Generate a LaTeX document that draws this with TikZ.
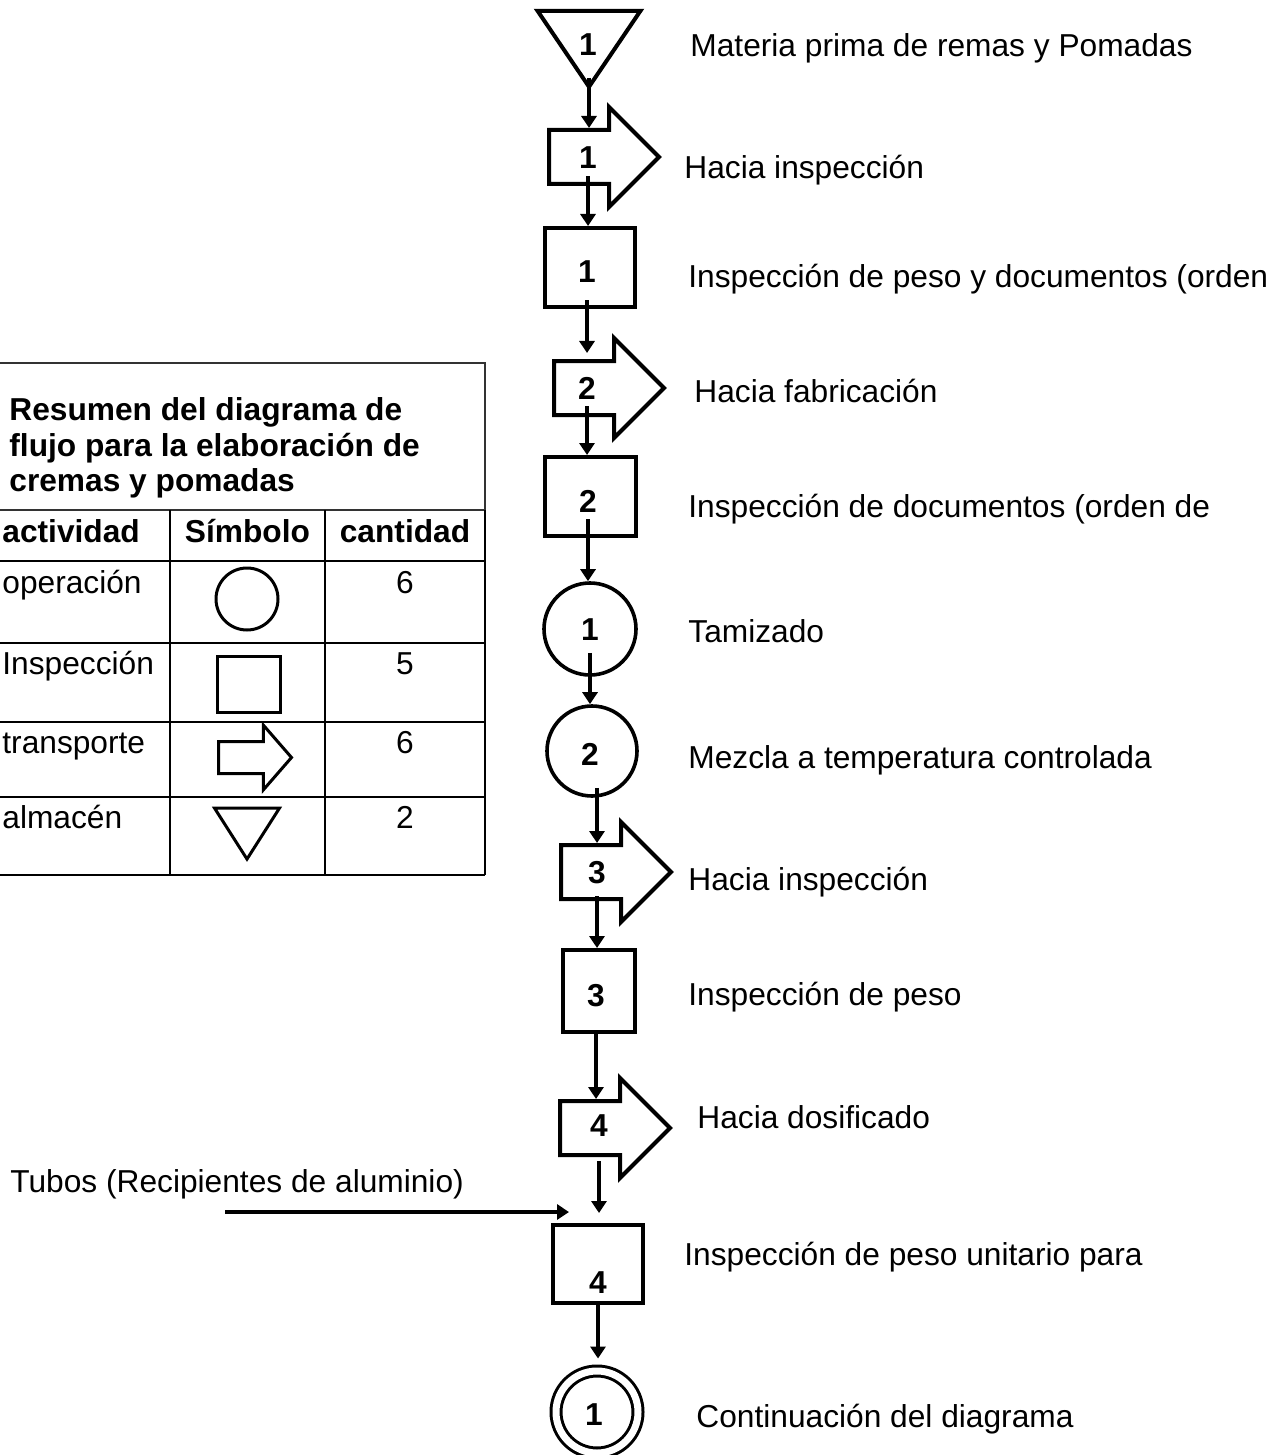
\documentclass[tikz,border=0pt]{standalone}
\usepackage{fontspec}
\setmainfont{Liberation Sans}
\usetikzlibrary{arrows.meta,positioning,shapes.geometric,shapes.arrows}
\tikzset{
  texto/.style={font=\fontsize{15.85}{17.75}\selectfont,inner sep=0pt,anchor=base west},
  numero/.style={font=\fontsize{15.85}{17.75}\selectfont\bfseries,inner sep=0pt,anchor=base},
  inspeccion/.style={draw=black,line width=2pt,rectangle},
  operacion/.style={draw=black,line width=1.8pt,circle},
  transporte/.style={draw=black,line width=2pt,single arrow,single arrow head extend=11.5pt,single arrow tip angle=90,minimum height=55pt,inner xsep=0pt,inner ysep=12.5pt,anchor=tail},
  almacen/.style={draw=black,line width=2pt,isosceles triangle,isosceles triangle stretches,shape border rotate=-90,inner sep=0pt,anchor=apex},
  simbolo/.style={draw=black,line width=1.5pt},
  tabla/.style={draw=black,line width=0.7pt},
  flecha/.style={-{Triangle[length=6pt,width=7.5pt]},line width=1.7pt,draw=black}
}
\begin{document}
\begin{tikzpicture}[x=0.5pt,y=-0.5pt]
  \useasboundingbox (0,0) rectangle (1286,1455);

  % resumen
  \draw[line width=1pt,draw=black!80] (0,363) -- (485,363) -- (485,510) -- (0,510);
  \node (titulo) [texto,anchor=north west,align=left,font=\fontsize{15.85}{17.9}\selectfont\bfseries] at (9,397) {Resumen del diagrama de\\flujo para la elaboración de\\cremas y pomadas};
  \draw[tabla] (0,561) -- (485,561) (0,643) -- (485,643) (0,722) -- (485,722) (0,797) -- (485,797) (0,875) -- (485,875);
  \draw[tabla] (170,510) -- (170,875) (325,510) -- (325,875) (485,510) -- (485,875);
  \node (hact) [texto,font=\fontsize{15.85}{17.75}\selectfont\bfseries] at (2,542) {actividad};
  \node (hsim) [numero] at (247.5,542) {Símbolo};
  \node (hcant) [numero] at (405,542) {cantidad};
  \node (rop) [texto] at (2,593) {operación};
  \node (rinsp) [texto] at (2,674) {Inspección};
  \node (rtr) [texto] at (2,753) {transporte};
  \node (ralm) [texto] at (2,828) {almacén};
  \node (cop) [numero,font=\fontsize{15.85}{17.75}\selectfont] at (405,593) {6};
  \node (cinsp) [numero,font=\fontsize{15.85}{17.75}\selectfont] at (405,674) {5};
  \node (ctr) [numero,font=\fontsize{15.85}{17.75}\selectfont] at (405,753) {6};
  \node (calm) [numero,font=\fontsize{15.85}{17.75}\selectfont] at (405,828) {2};
  \node (sop) [simbolo,circle,minimum size=31pt] at (247,599) {};
  \node (sinsp) [simbolo,minimum width=31.5pt,minimum height=28pt] at (248.5,684) {};
  \node (str) [transporte,line width=1.5pt,minimum height=36.5pt,inner ysep=7.25pt,single arrow head extend=8.25pt,single arrow tip angle=98] at (217,757.5) {};
  \node (salm) [almacen,line width=1.5pt,minimum width=32.5pt,minimum height=25.5pt] at (247,863) {};

  % diagrama
  \node (alm1) [almacen,minimum width=51.5pt,minimum height=38pt] at (589,92) {};
  \node (alm1n) [numero] at (588,56) {1};
  \node (tr1) [transporte] at (547,157) {};
  \node (tr1n) [numero] at (588,169) {1};
  \node (insp1) [inspeccion,minimum width=45pt,minimum height=39.5pt] at (590,267.5) {};
  \node (insp1n) [numero] at (587,282) {1};
  \node (tr2) [transporte] at (552,388) {};
  \node (tr2n) [numero] at (587,399) {2};
  \node (insp2) [inspeccion,minimum width=45.5pt,minimum height=39.5pt] at (590.5,496.5) {};
  \node (insp2n) [numero] at (588,512) {2};
  \node (op1) [operacion,minimum size=46pt] at (590,629) {};
  \node (op1n) [numero] at (590,640) {1};
  \node (op2) [operacion,minimum size=45pt] at (592,751) {};
  \node (op2n) [numero] at (590,765) {2};
  \node (tr3) [transporte] at (559,872) {};
  \node (tr3n) [numero] at (597,883) {3};
  \node (insp3) [inspeccion,minimum width=36pt,minimum height=41pt] at (599,991) {};
  \node (insp3n) [numero] at (596,1006) {3};
  \node (tr4) [transporte] at (558,1128) {};
  \node (tr4n) [numero] at (599,1136) {4};
  \node (insp4) [inspeccion,minimum width=45pt,minimum height=39pt] at (598,1264) {};
  \node (insp4n) [numero] at (598,1293) {4};
  \node (cont) [circle,draw=black,line width=1.5pt,double,double distance=3.5pt,minimum size=41pt] at (597,1412) {};
  \node (contn) [numero] at (594,1425) {1};

  \node (d1) [texto] at (690,57) {Materia prima de remas y Pomadas};
  \node (d2) [texto] at (684,179) {Hacia inspección};
  \node (d3) [texto] at (688,287) {Inspección de peso y documentos (orden};
  \node (d4) [texto] at (694,402) {Hacia fabricación};
  \node (d5) [texto] at (688,517) {Inspección de documentos (orden de};
  \node (d6) [texto] at (688,642) {Tamizado};
  \node (d7) [texto] at (688,768) {Mezcla a temperatura controlada};
  \node (d8) [texto] at (688,890) {Hacia inspección};
  \node (d9) [texto] at (688,1005) {Inspección de peso};
  \node (d10) [texto] at (697,1128) {Hacia dosificado};
  \node (d11) [texto] at (684,1265) {Inspección de peso unitario para};
  \node (d12) [texto] at (696,1427) {Continuación del diagrama};
  \node (tubos) [texto] at (10,1192) {Tubos (Recipientes de aluminio)};
  \coordinate (tubosini) at (225,1212);
  \coordinate (tubosfin) at (569,1212);

  \draw[flecha,shorten <=-7pt] (alm1.apex) -- (alm1.apex |- tr1.90);
  \draw[flecha,shorten <=-5pt] (tr1n |- tr1.270) -- (tr1n |- insp1.north);
  \draw[flecha,shorten <=-4.5pt,shorten >=3pt] (insp1n |- insp1.south) -- (insp1n |- tr2.90);
  \draw[flecha,shorten <=-5.5pt] (tr2n |- tr2.270) -- (tr2n |- insp2.north);
  \draw[flecha,shorten <=-9.5pt] (insp2n |- insp2.south) -- (insp2n |- op1.north);
  \draw[flecha,shorten <=-12pt] (op1n |- op1.south) -- (op1n |- op2.north);
  \draw[flecha,shorten <=-5pt] (tr3n |- op2.south) -- (tr3n |- tr3.90);
  \draw[flecha,shorten <=-2.5pt] (tr3n |- tr3.270) -- (tr3n |- insp3.north);
  \draw[flecha] (insp3n |- insp3.south) -- (insp3n |- tr4.90);
  \draw[flecha,shorten <=2pt,shorten >=5pt] (tr4n |- tr4.270) -- (tr4n |- insp4.north);
  \draw[flecha,shorten >=5.5pt] (insp4n |- insp4.south) -- (insp4n |- cont.north);
  \draw[flecha] (tubosini) -- (tubosfin);
\end{tikzpicture}
\end{document}
